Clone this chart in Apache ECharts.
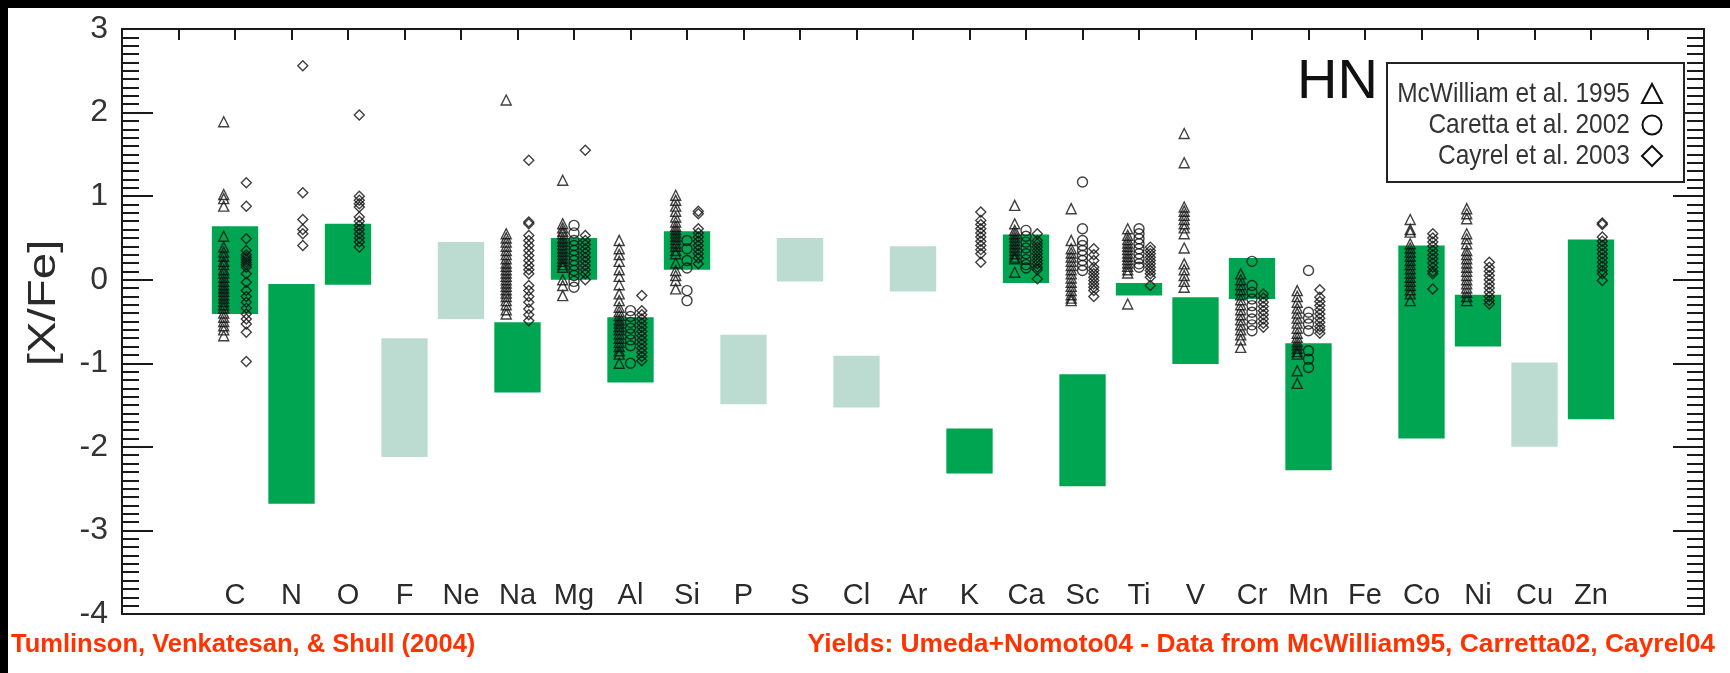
<!DOCTYPE html>
<html>
<head>
<meta charset="utf-8">
<script src="https://cdn.jsdelivr.net/npm/echarts@6/dist/echarts.min.js"></script>
<style>
html,body{margin:0;padding:0;background:#fff;}
#chart{width:1730px;height:673px;}
</style>
</head>
<body>
<div id="chart"></div>
<script>
// ---- data ----
const elements = ['C','N','O','F','Ne','Na','Mg','Al','Si','P','S','Cl','Ar','K','Ca','Sc','Ti','V','Cr','Mn','Fe','Co','Ni','Cu','Zn'];
const atomicNumbers = [6,7,8,9,10,11,12,13,14,15,16,17,18,19,20,21,22,23,24,25,26,27,28,29,30];
const yieldHigh = [0.64,-0.05,0.67,-0.70,0.45,-0.51,0.50,-0.45,0.58,-0.66,0.50,-0.91,0.40,-1.78,0.54,-1.13,-0.04,-0.21,0.26,-0.76,null,0.41,-0.18,-0.99,0.48];
const yieldLow  = [-0.41,-2.68,-0.06,-2.12,-0.47,-1.35,0.00,-1.23,0.12,-1.49,-0.02,-1.53,-0.14,-2.32,-0.04,-2.47,-0.19,-1.01,-0.23,-2.28,null,-1.90,-0.80,-2.00,-1.67];
const constrained = [true,true,true,false,false,true,true,true,true,false,false,false,false,true,true,true,true,true,true,true,true,true,true,false,true];
const yTicks = [-4,-3,-2,-1,0,1,2,3];
const datasetNames = ['McWilliam et al. 1995','Caretta et al. 2002','Cayrel et al. 2003'];

// [X/Fe] per element, same order as `elements`
const mcwilliam95 = [
  [1.89,1.02,0.97,0.88,0.52,0.39,0.33,0.28,0.22,0.18,0.12,0.08,0.03,-0.02,-0.06,-0.10,-0.14,-0.18,-0.22,-0.26,-0.30,-0.34,-0.40,-0.45,-0.50,-0.55,-0.60,-0.67],
  [],[],[],[],
  [2.15,0.55,0.50,0.45,0.40,0.35,0.30,0.25,0.20,0.16,0.12,0.08,0.04,0.00,-0.04,-0.08,-0.12,-0.16,-0.20,-0.25,-0.30,-0.36,-0.41],
  [1.19,0.67,0.62,0.58,0.55,0.50,0.46,0.42,0.38,0.34,0.30,0.26,0.22,0.18,0.15,0.00,-0.07,-0.19],
  [0.47,0.37,0.30,0.22,0.12,0.04,-0.06,-0.17,-0.25,-0.33,-0.38,-0.43,-0.48,-0.52,-0.56,-0.60,-0.65,-0.70,-0.75,-0.80,-0.85,-0.89,-1.00],
  [1.01,0.95,0.88,0.82,0.75,0.69,0.64,0.60,0.56,0.52,0.48,0.44,0.40,0.35,0.31,0.20,0.11,0.05,-0.01,-0.11],
  [],[],[],[],[],
  [0.89,0.67,0.59,0.55,0.51,0.47,0.43,0.39,0.35,0.31,0.27,0.25,0.09],
  [0.85,0.47,0.37,0.32,0.27,0.22,0.17,0.12,0.07,0.02,-0.03,-0.08,-0.13,-0.18,-0.22,-0.25],
  [0.61,0.53,0.48,0.44,0.40,0.36,0.32,0.28,0.24,0.20,0.16,0.12,0.08,-0.29],
  [1.75,1.40,0.87,0.82,0.77,0.72,0.67,0.62,0.55,0.38,0.19,0.12,0.05,-0.02,-0.09],
  [0.07,0.00,-0.06,-0.12,-0.18,-0.24,-0.30,-0.36,-0.42,-0.48,-0.54,-0.60,-0.66,-0.72,-0.81],
  [-0.13,-0.20,-0.27,-0.34,-0.40,-0.46,-0.52,-0.58,-0.64,-0.69,-0.74,-0.78,-0.82,-0.86,-0.89,-1.09,-1.24],
  [],
  [0.72,0.60,0.57,0.43,0.38,0.33,0.28,0.23,0.18,0.13,0.08,0.03,-0.02,-0.07,-0.12,-0.17,-0.25],
  [0.85,0.79,0.73,0.55,0.49,0.43,0.35,0.30,0.25,0.20,0.15,0.10,0.05,0.00,-0.05,-0.10,-0.15,-0.20,-0.25],
  [],[]
];
const carretta02 = [
  [],[],[],[],[],[],
  [0.65,0.56,0.47,0.41,0.35,0.29,0.23,0.17,0.11,0.05,-0.02,-0.09],
  [-0.37,-0.44,-0.51,-0.58,-0.65,-0.72,-0.79,-1.00],
  [0.47,0.37,0.23,0.14,-0.13,-0.25],
  [],[],[],[],[],
  [0.59,0.52,0.45,0.38,0.31,0.24,0.18,0.14],
  [1.17,0.61,0.47,0.41,0.35,0.29,0.23,0.17,0.11],
  [0.61,0.55,0.49,0.43,0.37,0.31,0.25,0.19,0.15],
  [],
  [0.22,-0.07,-0.15,-0.23,-0.31,-0.39,-0.47,-0.54,-0.61],
  [0.11,-0.39,-0.46,-0.53,-0.61,-0.85,-0.95,-1.05],
  [],[],[],[],[]
];
const cayrel03 = [
  [1.16,0.88,0.49,0.35,0.30,0.27,0.24,0.21,0.18,0.15,0.07,-0.03,-0.13,-0.20,-0.27,-0.34,-0.41,-0.47,-0.53,-0.63,-0.98],
  [2.56,1.04,0.72,0.60,0.55,0.41],
  [1.97,1.00,0.95,0.91,0.87,0.75,0.70,0.65,0.60,0.55,0.50,0.45,0.39],
  [],[],
  [1.43,0.69,0.67,0.53,0.47,0.41,0.35,0.29,0.23,0.17,0.12,0.07,-0.07,-0.13,-0.20,-0.27,-0.35,-0.42,-0.49],
  [1.55,0.53,0.47,0.42,0.37,0.32,0.27,0.22,0.17,0.12,0.07,0.00],
  [-0.19,-0.37,-0.42,-0.47,-0.52,-0.57,-0.62,-0.67,-0.72,-0.77,-0.82,-0.87,-0.92,-0.97],
  [0.82,0.79,0.61,0.56,0.51,0.46,0.41,0.36,0.31,0.26,0.19],
  [],[],[],[],
  [0.81,0.71,0.66,0.61,0.56,0.51,0.46,0.41,0.36,0.31,0.21],
  [0.55,0.47,0.43,0.39,0.35,0.31,0.27,0.23,0.19,0.15,0.12,0.01],
  [0.37,0.30,0.23,0.15,0.11,0.07,0.03,-0.01,-0.05,-0.09,-0.13,-0.20],
  [0.39,0.35,0.31,0.27,0.23,0.19,0.15,0.11,0.07,0.03,-0.07],
  [],
  [-0.17,-0.22,-0.27,-0.32,-0.37,-0.42,-0.47,-0.52,-0.57],
  [-0.12,-0.21,-0.26,-0.31,-0.36,-0.41,-0.46,-0.51,-0.56,-0.60,-0.64],
  [],
  [0.55,0.50,0.45,0.40,0.35,0.30,0.25,0.20,0.15,0.10,0.07,-0.11],
  [0.21,0.15,0.10,0.05,0.00,-0.05,-0.10,-0.15,-0.20,-0.25,-0.29],
  [],
  [0.68,0.66,0.51,0.46,0.41,0.36,0.31,0.26,0.21,0.16,0.11,0.07,-0.01]
];

// ---- build ----
const FONT = "'Liberation Sans', Arial, Helvetica, sans-serif";
const DARK = '#00a551';
const LIGHT = '#bcdcd2';
const AXIS = '#1a1a1a';

const barData = [];
elements.forEach((el, i) => {
  if (yieldHigh[i] === null) return;
  barData.push([atomicNumbers[i], yieldLow[i], yieldHigh[i], constrained[i] ? 1 : 0]);
});

function points(set, offset) {
  const out = [];
  set.forEach((vals, i) => vals.forEach(v => out.push([atomicNumbers[i] + offset, v])));
  return out;
}

const zMin = 4, zMax = 32;
const chart = echarts.init(document.getElementById('chart'), null, {renderer: 'canvas'});

const xBase = {
  type: 'value', min: zMin, max: zMax, interval: 1,
  splitLine: {show: false},
  axisLine: {show: true, onZero: false, lineStyle: {color: AXIS, width: 2}}
};
const yBase = {
  type: 'value', min: -4, max: 3, interval: 1,
  splitLine: {show: false},
  axisLine: {show: true, onZero: false, lineStyle: {color: AXIS, width: 2}},
  axisTick: {show: true, inside: true, length: 31, lineStyle: {color: AXIS, width: 2}},
  minorTick: {show: true, splitNumber: 10, length: 17, lineStyle: {color: AXIS, width: 2}}
};

const markerStyle = {color: 'rgba(0,0,0,0)', borderColor: '#111', borderWidth: 1.4};
function txt(text, x, y, size, align, extra) {
  return Object.assign({type: 'text', x: x, y: y, z: 51,
    style: Object.assign({text: text, fontFamily: FONT, fontSize: size, fill: '#333',
      align: align, verticalAlign: 'middle', textAlign: align, textVerticalAlign: 'middle'}, (extra && extra.style) || {})},
    (extra && extra.el) || {});
}

const option = {
  backgroundColor: '#ffffff',
  animation: false,
  grid: {left: 122, top: 29, right: 26, bottom: 59, containLabel: false},
  xAxis: [
    Object.assign({}, xBase, {
      position: 'bottom',
      axisTick: {show: false},
      axisLabel: {
        show: true, inside: true, margin: 4,
        fontFamily: FONT, fontSize: 29, color: '#2a2a2a',
        formatter: v => { const k = atomicNumbers.indexOf(Math.round(v)); return k >= 0 ? elements[k] : ''; }
      }
    }),
    Object.assign({}, xBase, {
      position: 'top',
      axisTick: {show: true, inside: true, length: 11, lineStyle: {color: AXIS, width: 2}},
      axisLabel: {show: false}
    })
  ],
  yAxis: [
    Object.assign({}, yBase, {
      position: 'left',
      axisLabel: {show: true, margin: 14, fontFamily: FONT, fontSize: 32, color: '#333',
        formatter: v => yTicks.indexOf(v) >= 0 ? String(v) : ''}
    }),
    Object.assign({}, yBase, {
      position: 'right',
      axisLabel: {show: false}
    })
  ],
  series: [
    {
      type: 'custom', name: 'yields', xAxisIndex: 0, yAxisIndex: 0,
      data: barData, encode: {x: 0, y: [1, 2]}, z: 1,
      renderItem: function (params, api) {
        const z = api.value(0), lo = api.value(1), hi = api.value(2);
        const p1 = api.coord([z - 0.41, hi]);
        const p2 = api.coord([z + 0.41, lo]);
        return {
          type: 'rect',
          shape: {x: p1[0], y: p1[1], width: p2[0] - p1[0], height: p2[1] - p1[1]},
          style: {fill: api.value(3) ? DARK : LIGHT}
        };
      }
    },
    {type: 'scatter', name: datasetNames[0], data: points(mcwilliam95, -0.2),
      symbol: 'triangle', symbolSize: 10, z: 3, itemStyle: markerStyle},
    {type: 'scatter', name: datasetNames[1], data: points(carretta02, 0),
      symbol: 'circle', symbolSize: 10, z: 3, itemStyle: markerStyle},
    {type: 'scatter', name: datasetNames[2], data: points(cayrel03, 0.2),
      symbol: 'diamond', symbolSize: 10, z: 3, itemStyle: markerStyle}
  ],
  graphic: [
    {type: 'rect', shape: {x: 0, y: 0, width: 1730, height: 8}, style: {fill: '#000'}, z: 100},
    {type: 'rect', shape: {x: 0, y: 0, width: 8, height: 673}, style: {fill: '#000'}, z: 100},
    txt('[X/Fe]', 45, 303, 38, 'center', {el: {rotation: Math.PI / 2, scaleX: 1.25}, style: {fill: '#2a2a2a'}}),
    txt('HN', 1297, 83, 56, 'left', {style: {fill: '#111'}}),
    {type: 'rect', shape: {x: 1387, y: 63, width: 297, height: 119}, style: {fill: '#fff', stroke: '#222', lineWidth: 2}, z: 50},
    txt(datasetNames[0], 1630, 94, 24.5, 'right', {el: {scaleY: 1.15}}),
    txt(datasetNames[1], 1630, 125, 24.5, 'right', {el: {scaleY: 1.15}}),
    txt(datasetNames[2], 1630, 156, 24.5, 'right', {el: {scaleY: 1.15}}),
    {type: 'polygon', z: 51, shape: {points: [[1642, 103], [1662, 103], [1652, 84]]}, style: {fill: 'none', stroke: '#111', lineWidth: 2}},
    {type: 'circle', z: 51, shape: {cx: 1652, cy: 125, r: 9.5}, style: {fill: 'none', stroke: '#111', lineWidth: 2}},
    {type: 'polygon', z: 51, shape: {points: [[1652, 146], [1662, 156], [1652, 166], [1642, 156]]}, style: {fill: 'none', stroke: '#111', lineWidth: 2}},
    txt('Tumlinson, Venkatesan, & Shull (2004)', 11, 645, 25.5, 'left', {style: {fontWeight: 'bold', fill: '#ff3300'}}),
    txt('Yields: Umeda+Nomoto04 - Data from McWilliam95, Carretta02, Cayrel04', 1715, 645, 26.4, 'right', {style: {fontWeight: 'bold', fill: '#ff3300'}})
  ]
};
chart.setOption(option);
</script>
</body>
</html>
